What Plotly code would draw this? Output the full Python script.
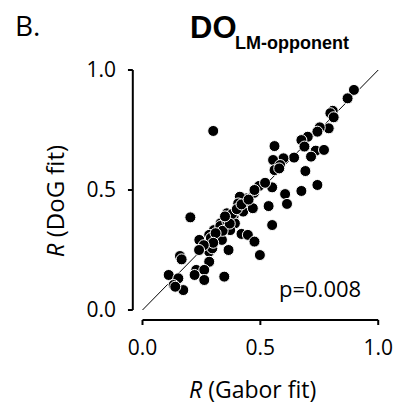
import plotly.graph_objects as go

# R values: Gabor fit (x) vs DoG fit (y)
gabor_r = [0.897, 0.870, 0.807, 0.797, 0.811, 0.790, 0.752, 0.742, 0.701, 0.674,
           0.687, 0.735, 0.770, 0.715, 0.643, 0.560, 0.598, 0.554, 0.584, 0.560,
           0.691, 0.742, 0.674, 0.605, 0.550, 0.495, 0.473, 0.613, 0.535,
           0.475, 0.550, 0.440, 0.413, 0.447, 0.427, 0.468, 0.406, 0.358, 0.351,
           0.386, 0.392, 0.331, 0.317, 0.303, 0.283, 0.372, 0.337, 0.276, 0.283,
           0.296, 0.241, 0.203, 0.420, 0.447, 0.475, 0.365, 0.498, 0.283, 0.159,
           0.166, 0.228, 0.221, 0.262, 0.262, 0.347, 0.111, 0.152, 0.132, 0.173,
           0.300, 0.139,
           0.33, 0.36, 0.38, 0.40, 0.34, 0.29, 0.31, 0.37, 0.42, 0.45, 0.30, 0.26,
           0.35, 0.24, 0.52, 0.58]
dog_r = [0.917, 0.882, 0.830, 0.820, 0.803, 0.757, 0.761, 0.743, 0.722, 0.708,
         0.681, 0.664, 0.667, 0.639, 0.635, 0.683, 0.632, 0.625, 0.604, 0.583,
         0.579, 0.521, 0.496, 0.483, 0.511, 0.517, 0.488, 0.442, 0.433,
         0.500, 0.354, 0.465, 0.472, 0.451, 0.410, 0.424, 0.444, 0.403, 0.382,
         0.389, 0.361, 0.361, 0.340, 0.333, 0.313, 0.333, 0.292, 0.271, 0.243,
         0.257, 0.292, 0.386, 0.317, 0.313, 0.285, 0.250, 0.229, 0.201, 0.225,
         0.211, 0.167, 0.146, 0.167, 0.125, 0.139, 0.146, 0.132, 0.104, 0.083,
         0.746, 0.097,
         0.35, 0.37, 0.40, 0.42, 0.33, 0.30, 0.32, 0.36, 0.44, 0.46, 0.28, 0.27,
         0.39, 0.25, 0.53, 0.59]

tick_vals = [0, 0.5, 1.0]
tick_text = ["0.0", "0.5", "1.0"]
p_text = "p=0.008"

# layout geometry (pixels)
L, R, T, B = 126, 12, 63, 77
W, H = 405, 405
PW, PH = W - L - R, H - T - B
X_RANGE = [-0.0700, -0.0700 + PW / 243.0]
Y_RANGE = [-0.0750, -0.0750 + PH / 240.0]
X_SPINE = -10 / 243.0      # offset left spine position (data units)
Y_SPINE = -10 / 240.0      # offset bottom spine position (data units)
TLX = 5 / 243.0            # tick length in x data units
TLY = 5 / 240.0            # tick length in y data units

TICK_FONT = dict(family="Open Sans", size=21, color="black")

fig = go.Figure()

# identity line
fig.add_trace(go.Scatter(x=[0, 1], y=[0, 1], mode="lines",
                         line=dict(color="black", width=1), showlegend=False,
                         hoverinfo="skip"))

# offset spines with ticks, drawn through the axes
sx, sy = [0, 1], [Y_SPINE, Y_SPINE]
for v in tick_vals:
    sx += [None, v, v]
    sy += [None, Y_SPINE, Y_SPINE - TLY]
fig.add_trace(go.Scatter(x=sx, y=sy, mode="lines", line=dict(color="black", width=2),
                         showlegend=False, hoverinfo="skip"))
lx, ly = [X_SPINE, X_SPINE], [0, 1]
for v in tick_vals:
    lx += [None, X_SPINE, X_SPINE - TLX]
    ly += [None, v, v]
fig.add_trace(go.Scatter(x=lx, y=ly, mode="lines", line=dict(color="black", width=2),
                         showlegend=False, hoverinfo="skip"))

# data points
fig.add_trace(go.Scatter(
    x=gabor_r, y=dog_r, mode="markers",
    marker=dict(color="black", size=11, line=dict(color="white", width=1)),
    showlegend=False))

fig.update_layout(
    width=W, height=H,
    margin=dict(l=L, r=R, t=T, b=B),
    plot_bgcolor="white", paper_bgcolor="white",
    xaxis=dict(range=X_RANGE, showgrid=False, zeroline=False, showline=False,
               tickvals=tick_vals, ticktext=tick_text, ticks="",
               tickfont=TICK_FONT, ticklabelstandoff=5),
    yaxis=dict(range=Y_RANGE, showgrid=False, zeroline=False, showline=False,
               tickvals=tick_vals, ticktext=tick_text, ticks="",
               tickfont=TICK_FONT, ticklabelstandoff=9),
)

# p value
fig.add_annotation(x=0.753, y=0.09, xref="x", yref="y", text=p_text, showarrow=False,
                   font=dict(family="Open Sans", size=22, color="black"))

def px_to_paper(px, py):
    return (px - L) / float(PW), (H - B - py) / float(PH)

ax, ay = px_to_paper(256, 389)
fig.add_annotation(x=ax, y=ay, xref="paper", yref="paper", text="<i>R</i> (Gabor fit)",
                   showarrow=False, xanchor="center", yanchor="middle",
                   font=dict(family="Open Sans", size=23, color="black"))
ax, ay = px_to_paper(52, 201)
fig.add_annotation(x=ax, y=ay, xref="paper", yref="paper", text="<i>R</i> (DoG fit)",
                   showarrow=False, xanchor="center", yanchor="middle", textangle=-90,
                   font=dict(family="Open Sans", size=24, color="black"))

# panel letter and title
ax, ay = px_to_paper(10, 25)
fig.add_annotation(x=ax, y=ay, xref="paper", yref="paper", text="B.", showarrow=False,
                   xanchor="left", yanchor="middle",
                   font=dict(family="Open Sans", size=28, color="black"))
ax, ay = px_to_paper(190, 27)
fig.add_annotation(x=ax, y=ay, xref="paper", yref="paper", text="<b>DO</b>", showarrow=False,
                   xanchor="left", yanchor="middle",
                   font=dict(family="Liberation Sans", size=31, color="black"))
ax, ay = px_to_paper(236, 43)
fig.add_annotation(x=ax, y=ay, xref="paper", yref="paper", text="<b>LM-opponent</b>",
                   showarrow=False, xanchor="left", yanchor="middle",
                   font=dict(family="Liberation Sans", size=18, color="black"))

fig.write_html("out.html")
